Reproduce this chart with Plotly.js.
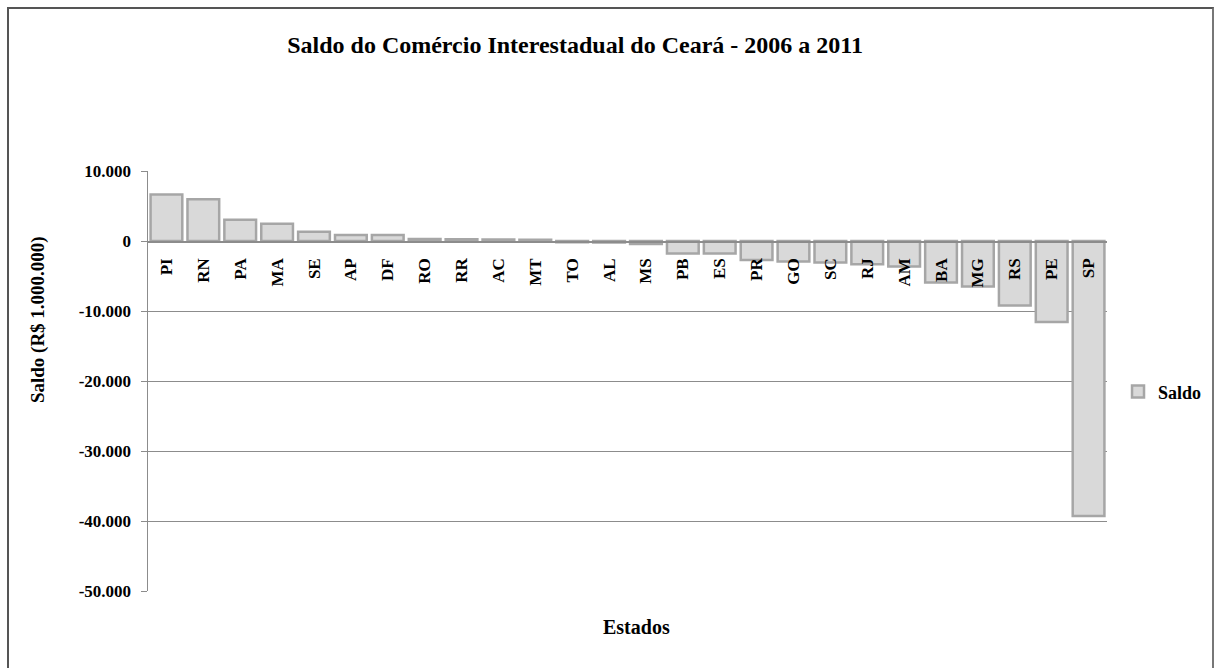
<!DOCTYPE html>
<html>
<head>
<meta charset="utf-8">
<script src="https://cdn.plot.ly/plotly-3.0.1.min.js"></script>
<style>
html,body{margin:0;padding:0;background:#fff;}
#chart{position:absolute;left:0;top:0;width:1214px;height:668px;}
#frame{position:absolute;left:7px;top:7px;width:1203px;height:700px;border-left:2px solid #555;border-top:2px solid #555;border-right:2px solid #777;pointer-events:none;}
</style>
</head>
<body>
<div id="chart"></div>
<div id="frame"></div>
<script>
var estados = ["PI","RN","PA","MA","SE","AP","DF","RO","RR","AC","MT","TO","AL","MS","PB","ES","PR","GO","SC","RJ","AM","BA","MG","RS","PE","SP"];
var saldo = [6640, 5970, 3030, 2460, 1320, 850, 850, 280, 250, 200, 180, -190, -200, -430, -1800, -1800, -2700, -2940, -3080, -3320, -3650, -5930, -6500, -9200, -11570, -39300];
var yTickVals = [10000, 0, -10000, -20000, -30000, -40000, -50000];
var yTickText = ["10.000", "0", "-10.000", "-20.000", "-30.000", "-40.000", "-50.000"];

var serif = "Liberation Serif, Times New Roman, serif";

var trace = {
  type: "bar",
  x: estados,
  y: saldo,
  name: "Saldo",
  marker: {color: "#d9d9d9", line: {color: "#a6a6a6", width: 2.5}},
  hoverinfo: "x+y"
};

var layout = {
  width: 1214,
  height: 668,
  paper_bgcolor: "#ffffff",
  plot_bgcolor: "#ffffff",
  margin: {l: 148, r: 107, t: 171, b: 77, pad: 0, autoexpand: false},
  bargap: 0.14,
  title: {
    text: "<b>Saldo do Comércio Interestadual do Ceará - 2006 a 2011</b>",
    font: {family: serif, size: 24, color: "#000"},
    x: 0.4737, xref: "container", xanchor: "center",
    y: 0.933, yref: "container", yanchor: "middle"
  },
  showlegend: true,
  legend: {
    x: 1.0115, xanchor: "left", y: 0.474, yanchor: "middle",
    font: {family: serif, size: 18, color: "#000", weight: "bold"},
    itemwidth: 30,
    bgcolor: "rgba(0,0,0,0)"
  },
  xaxis: {
    type: "category",
    anchor: "free",
    position: 5/6,
    showline: true,
    linecolor: "#8c8c8c",
    linewidth: 1.5,
    ticks: "",
    tickangle: -90,
    ticklabelstandoff: 9,
    tickfont: {family: serif, size: 17, color: "#000", weight: "bold"},
    showgrid: false,
    zeroline: false,
    fixedrange: true
  },
  yaxis: {
    range: [-50000, 10000],
    tickvals: yTickVals,
    ticktext: yTickText,
    tickfont: {family: serif, size: 17, color: "#000", weight: "bold"},
    ticks: "outside",
    ticklen: 6,
    tickcolor: "#8c8c8c",
    showline: true,
    linecolor: "#8c8c8c",
    linewidth: 1.5,
    showgrid: true,
    gridcolor: "#8c8c8c",
    gridwidth: 1,
    zeroline: false,
    ticklabelstandoff: 6,
    fixedrange: true
  },
  annotations: [
    {
      text: "<b>Saldo (R$ 1.000.000)</b>",
      xref: "paper", yref: "paper",
      x: -0.1147, y: 0.645,
      xanchor: "center", yanchor: "middle",
      textangle: -90, showarrow: false,
      font: {family: serif, size: 19, color: "#000"}
    },
    {
      text: "<b>Estados</b>",
      xref: "paper", yref: "paper",
      x: 0.509, y: -0.0857,
      xanchor: "center", yanchor: "middle",
      showarrow: false,
      font: {family: serif, size: 20, color: "#000"}
    }
  ]
};

Plotly.newPlot("chart", [trace], layout, {displayModeBar: false, staticPlot: true});
</script>
</body>
</html>
